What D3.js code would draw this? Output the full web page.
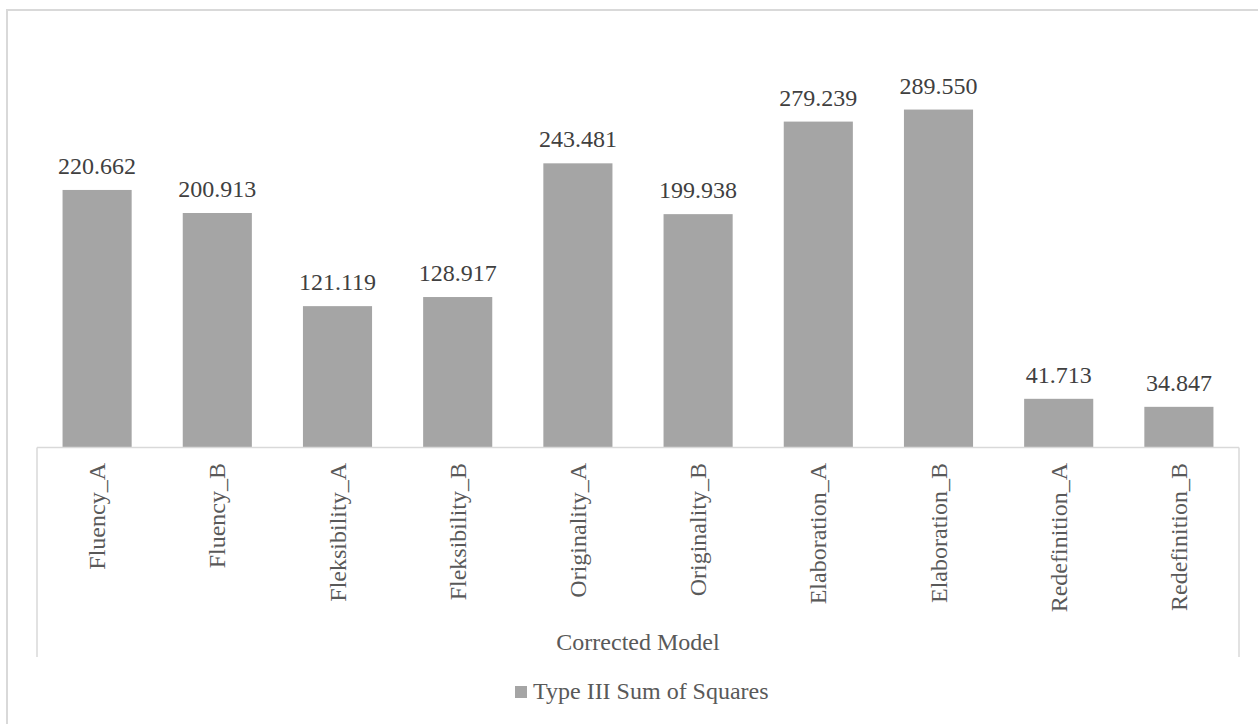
<!DOCTYPE html>
<html>
<head>
<meta charset="utf-8">
<script src="https://cdn.jsdelivr.net/npm/d3@7"></script>
<style>
  html, body { margin: 0; padding: 0; background: #fff; }
  svg { display: block; }
  text { font-family: "Liberation Serif", "Times New Roman", serif; }
</style>
</head>
<body>
<script>
const categories = ["Fluency_A", "Fluency_B", "Fleksibility_A", "Fleksibility_B", "Originality_A",
                    "Originality_B", "Elaboration_A", "Elaboration_B", "Redefinition_A", "Redefinition_B"];
const values = [220.662, 200.913, 121.119, 128.917, 243.481, 199.938, 279.239, 289.550, 41.713, 34.847];
const groupLabel = "Corrected Model";
const seriesName = "Type III Sum of Squares";
const yDomain = [0, 350];

(function () {
const W = 1258, H = 724;
const svg = d3.select("body").append("svg").attr("width", W).attr("height", H);

// chart border (only top/left visible in frame)
svg.append("rect").attr("x", 7).attr("y", 10).attr("width", W + 20).attr("height", H + 20)
  .attr("fill", "none").attr("stroke", "#d9d9d9").attr("stroke-width", 2);

const plotLeft = 37, plotRight = 1239, axisY = 447.5, plotTop = 39;
const x = d3.scaleBand().domain(categories).range([plotLeft, plotRight]).paddingInner(0.425).paddingOuter(0.2125);
const y = d3.scaleLinear().domain(yDomain).range([axisY, plotTop]);

// bars
svg.append("g").selectAll("rect").data(values).join("rect")
  .attr("x", (d, i) => x(categories[i]))
  .attr("y", d => y(d))
  .attr("width", x.bandwidth())
  .attr("height", d => y(0) - y(d))
  .attr("fill", "#a5a5a5");

// value labels
svg.append("g").selectAll("text").data(values).join("text")
  .attr("x", (d, i) => x(categories[i]) + x.bandwidth() / 2)
  .attr("y", d => y(d) - 16)
  .attr("text-anchor", "middle")
  .attr("font-size", 24)
  .attr("fill", "#404040")
  .text(d => d.toFixed(3));

// category axis (multi-level)
const axisG = svg.append("g").attr("stroke", "#d9d9d9").attr("stroke-width", 1.5).attr("fill", "none");
axisG.append("line").attr("x1", plotLeft).attr("x2", plotRight).attr("y1", axisY).attr("y2", axisY);
axisG.append("line").attr("x1", plotLeft).attr("x2", plotLeft).attr("y1", axisY).attr("y2", 657);
axisG.append("line").attr("x1", plotRight).attr("x2", plotRight).attr("y1", axisY).attr("y2", 657);

svg.append("g").selectAll("text").data(categories).join("text")
  .attr("transform", d => `translate(${x(d) + x.bandwidth() / 2 + 8},463) rotate(-90)`)
  .attr("text-anchor", "end")
  .attr("font-size", 24)
  .attr("fill", "#595959")
  .text(d => d);

svg.append("text")
  .attr("x", (plotLeft + plotRight) / 2).attr("y", 650)
  .attr("text-anchor", "middle")
  .attr("font-size", 24)
  .attr("fill", "#595959")
  .text(groupLabel);

// legend
const lg = svg.append("g");
lg.append("rect").attr("x", 515).attr("y", 686).attr("width", 12).attr("height", 12).attr("fill", "#a5a5a5");
lg.append("text").attr("x", 533).attr("y", 699)
  .attr("font-size", 24).attr("fill", "#595959").text(seriesName);
})();
</script>
</body>
</html>
